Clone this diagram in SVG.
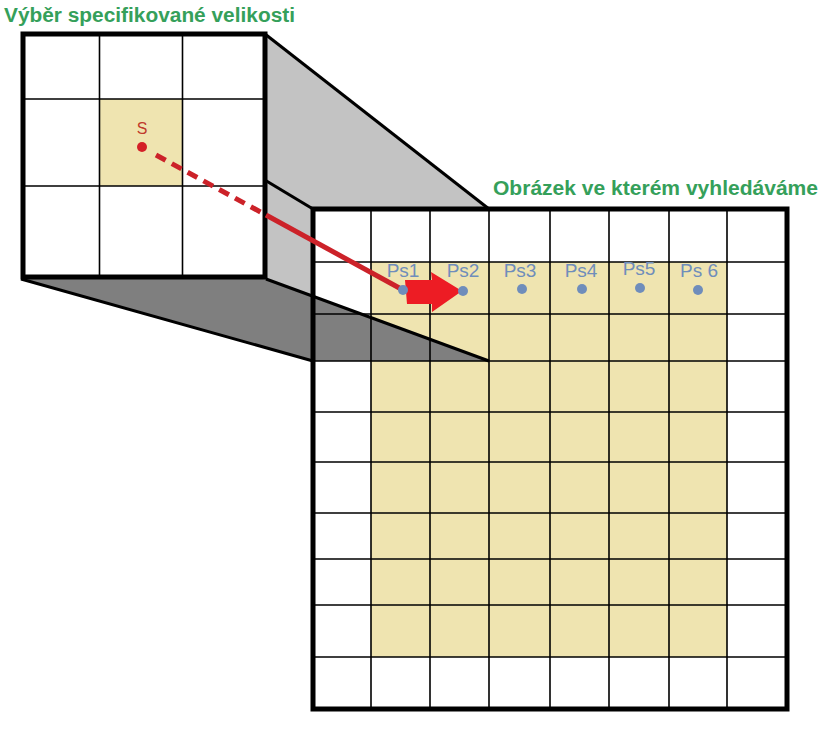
<svg xmlns="http://www.w3.org/2000/svg" width="828" height="741" viewBox="0 0 828 741">
<style>
.title{font-family:"Liberation Sans",Arial,sans-serif;font-weight:bold;fill:#35a05a;font-size:20px}
.ps{font-family:"Liberation Sans",Arial,sans-serif;fill:#6f8dbb;font-size:19px;text-anchor:middle}
.dot{fill:#6f8dbb}
.thin{stroke:#000;stroke-width:1.6;fill:none}
.border{stroke:#000;stroke-width:5;fill:none}
.edge{stroke:#000;stroke-width:3;fill:none}
.cream{fill:#efe4b0}
</style>
<rect width="828" height="741" fill="#fff"/>
<g id="projection-light">
<polygon points="265,34 489,209 489,361 266,279" fill="#c3c3c3"/>
</g>
<g id="search-image">
<rect x="313" y="209" width="474" height="500" fill="#fff"/>
<rect class="cream" x="371" y="262" width="356" height="395"/>
</g>
<g id="projection-dark">
<polygon points="21,279 266,279 489,361 313,361" fill="#7f7f7f"/>
</g>
<g id="search-grid">
<path class="thin" d="M371,209V709M430,209V709M489,209V709M550,209V709M609,209V709M669,209V709M727,209V709M313,262H787M313,314H787M313,361H787M313,412H787M313,462H787M313,513H787M313,559H787M313,605H787M313,657H787"/>
<rect class="border" x="313" y="209" width="474" height="500"/>
</g>
<g id="projection-edges">
<line class="edge" x1="23" y1="34" x2="313" y2="209"/>
<line class="edge" x1="265" y1="34" x2="489" y2="209"/>
<line class="edge" x1="21" y1="279" x2="313" y2="361"/>
<line class="edge" x1="266" y1="279" x2="489" y2="361"/>
</g>
<g id="selection">
<rect x="23" y="34" width="242" height="243" fill="#fff"/>
<rect class="cream" x="99.5" y="99" width="83" height="87"/>
<path class="thin" d="M99.5,34V277M182.5,34V277M23,99H265M23,186H265"/>
<rect class="border" x="23" y="34" width="242" height="243"/>
</g>
<g id="connectors">
<line x1="156" y1="155" x2="266" y2="215" stroke="#cc2229" stroke-width="5" stroke-dasharray="11 7"/>
<line x1="266" y1="215" x2="403" y2="290" stroke="#cc2229" stroke-width="5"/>
<polygon points="405,280 432,280 431,272 462,291 432,312 432,304 407,304" fill="#ed1c24"/>
</g>
<g id="point-s">
<circle cx="142" cy="147" r="5" fill="#d42027"/>
<text x="142" y="134" font-family="Liberation Sans,Arial,sans-serif" font-size="16" fill="#c0392b" text-anchor="middle">S</text>
</g>
<g id="ps1"><circle class="dot" cx="403" cy="290" r="5"/><text class="ps" x="403" y="277">Ps1</text></g>
<g id="ps2"><circle class="dot" cx="463" cy="291" r="5"/><text class="ps" x="463" y="277">Ps2</text></g>
<g id="ps3"><circle class="dot" cx="522" cy="289" r="5"/><text class="ps" x="520" y="277">Ps3</text></g>
<g id="ps4"><circle class="dot" cx="582" cy="289" r="5"/><text class="ps" x="581" y="277">Ps4</text></g>
<g id="ps5"><circle class="dot" cx="640" cy="288" r="5"/><text class="ps" x="639" y="275">Ps5</text></g>
<g id="ps6"><circle class="dot" cx="698" cy="290" r="5"/><text class="ps" x="699" y="277">Ps 6</text></g>
<g id="titles">
<text class="title" x="4" y="22" textLength="291" lengthAdjust="spacingAndGlyphs">Výběr specifikované velikosti</text>
<text class="title" x="493" y="195" textLength="325" lengthAdjust="spacingAndGlyphs">Obrázek ve kterém vyhledáváme</text>
</g>
</svg>
